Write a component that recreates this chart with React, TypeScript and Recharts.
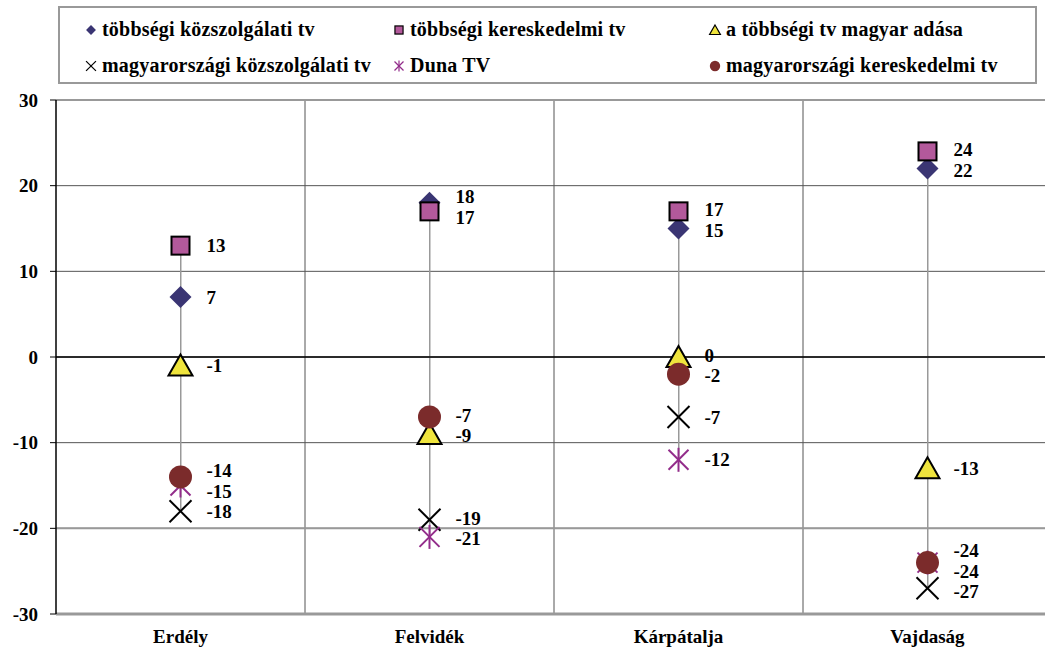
import { ComposedChart, Line, Bar, XAxis, YAxis, CartesianGrid, ReferenceLine, LabelList } from 'recharts';

const regions = ['Erdély', 'Felvidék', 'Kárpátalja', 'Vajdaság'];
const majorityPublic = [7, 18, 15, 22];
const majorityCommercial = [13, 17, 17, 24];
const majorityHungarian = [-1, -9, 0, -13];
const hungaryPublic = [-18, -19, -7, -27];
const dunaTv = [-15, -21, -12, -24];
const hungaryCommercial = [-14, -7, -2, -24];
const yTicks = [30, 20, 10, 0, -10, -20, -30];

const series = [
  { key: 'mp', name: 'többségi közszolgálati tv', values: majorityPublic, shape: 'diamond' },
  { key: 'mc', name: 'többségi kereskedelmi tv', values: majorityCommercial, shape: 'square' },
  { key: 'mh', name: 'a többségi tv magyar adása', values: majorityHungarian, shape: 'triangle' },
  { key: 'hp', name: 'magyarországi közszolgálati tv', values: hungaryPublic, shape: 'cross' },
  { key: 'duna', name: 'Duna TV', values: dunaTv, shape: 'star' },
  { key: 'hc', name: 'magyarországi kereskedelmi tv', values: hungaryCommercial, shape: 'circle' },
];

// push apart labels that would overlap (in value units)
const spread = (vals: number[], gap: number) => {
  const order = vals.map((_, i) => i).sort((a, b) => vals[b] - vals[a]);
  const p = vals.slice();
  for (let it = 0; it < 60; it++) {
    for (let k = 0; k < order.length - 1; k++) {
      const a = order[k], b = order[k + 1];
      const d = p[a] - p[b];
      if (d < gap) {
        const m = (gap - d) / 2;
        p[a] += m;
        p[b] -= m;
      }
    }
  }
  return p;
};

const data = regions.map((region, i) => {
  const vals = series.map((s) => s.values[i]);
  const lbl = spread(vals, 2.4);
  const row: any = { region, range: [Math.min(...vals), Math.max(...vals)] };
  series.forEach((s, j) => {
    row[s.key] = s.values[i];
    row[s.key + '_lbl'] = lbl[j];
  });
  return row;
});

const Marker = ({ shape, cx, cy, k = 1 }: { shape: string; cx: number; cy: number; k?: number }) => {
  const sw = k < 1 ? 1.2 : 2;
  if (shape === 'diamond')
    return <polygon points={`${cx},${cy - 11 * k} ${cx + 11 * k},${cy} ${cx},${cy + 11 * k} ${cx - 11 * k},${cy}`} fill="#3A3573" />;
  if (shape === 'square')
    return <rect x={cx - 9 * k} y={cy - 9 * k} width={18 * k} height={18 * k} fill="#B3599B" stroke="#000" strokeWidth={sw} />;
  if (shape === 'triangle')
    return <polygon points={`${cx},${cy - 11 * k} ${cx + 12 * k},${cy + 10 * k} ${cx - 12 * k},${cy + 10 * k}`} fill="#EFE43D" stroke="#000" strokeWidth={sw} />;
  if (shape === 'cross')
    return (
      <g stroke="#000" strokeWidth={sw}>
        <line x1={cx - 11 * k} y1={cy - 11 * k} x2={cx + 11 * k} y2={cy + 11 * k} />
        <line x1={cx - 11 * k} y1={cy + 11 * k} x2={cx + 11 * k} y2={cy - 11 * k} />
      </g>
    );
  if (shape === 'star')
    return (
      <g stroke="#922C8A" strokeWidth={sw}>
        <line x1={cx - 10 * k} y1={cy - 10 * k} x2={cx + 10 * k} y2={cy + 10 * k} />
        <line x1={cx - 10 * k} y1={cy + 10 * k} x2={cx + 10 * k} y2={cy - 10 * k} />
        <line x1={cx} y1={cy - 12 * k} x2={cx} y2={cy + 12 * k} />
      </g>
    );
  return <circle cx={cx} cy={cy} r={11.5 * k} fill="#7B2B2B" />;
};

const font = 'Liberation Serif';

const legendCols = [92, 400, 716];

const App = () => {
  return (
    <div style={{ position: 'absolute', left: 0, top: 0, width: 1045, height: 652, overflow: 'hidden', background: '#fff', fontFamily: font }}>
      <ComposedChart width={1052} height={652} data={data} margin={{ top: 100, right: 0, bottom: 0, left: 0 }}>
        <CartesianGrid
          horizontal
          vertical
          stroke="#555"
          verticalCoordinatesGenerator={({ offset }: any) => [1, 2, 3].map((n) => offset.left + (offset.width * n) / 4)}
        />
        <ReferenceLine y={30} stroke="#999" strokeWidth={2} />
        <ReferenceLine y={-20} stroke="#999" strokeWidth={2} />
        <ReferenceLine y={0} stroke="#000" strokeWidth={1.5} />
        <XAxis
          dataKey="region"
          height={38}
          axisLine={{ stroke: '#999', strokeWidth: 3 }}
          tickLine={false}
          tickMargin={10}
          tick={{ fill: '#000', fontSize: 19, fontWeight: 'bold', fontFamily: font }}
        />
        <YAxis
          type="number"
          domain={[-30, 30]}
          ticks={yTicks}
          width={56}
          interval={0}
          axisLine={{ stroke: '#000', strokeWidth: 1.5 }}
          tickLine={{ stroke: '#000' }}
          tickSize={6}
          tickMargin={12}
          tick={{ fill: '#000', fontSize: 19, fontWeight: 'bold', fontFamily: font }}
        />
        <Bar dataKey="range" barSize={1.5} fill="#999" isAnimationActive={false} />
        {series.map((s) => (
          <Line
            key={s.key}
            dataKey={s.key}
            stroke="none"
            isAnimationActive={false}
            activeDot={false}
            dot={(p: any) => <Marker key={`${s.key}-${p.index}`} shape={s.shape} cx={p.cx} cy={p.cy} />}
          />
        ))}
        {series.map((s) => (
          <Line key={s.key + '_lbl'} dataKey={s.key + '_lbl'} stroke="none" dot={false} activeDot={false} isAnimationActive={false}>
            <LabelList
              dataKey={s.key + '_lbl'}
              content={(p: any) => (
                <text x={p.x + 26} y={p.y} dy="0.35em" fontSize={19} fontWeight="bold" fontFamily={font} fill="#000">
                  {s.values[p.index]}
                </text>
              )}
            />
          </Line>
        ))}
      </ComposedChart>
      <div style={{ position: 'absolute', left: 58, top: 6, width: 975, height: 74, border: '2px solid #999', background: '#fff' }}>
        {series.map((s, i) => {
          const col = i % 3;
          const row = Math.floor(i / 3);
          return (
            <div
              key={s.key}
              style={{ position: 'absolute', left: legendCols[col] - 60 - 8, top: row * 36 + 10, display: 'flex', alignItems: 'center', fontSize: 20, letterSpacing: 0.2, fontWeight: 'bold', whiteSpace: 'nowrap' }}
            >
              <svg width={14} height={14} style={{ marginRight: 4 }}>
                <Marker shape={s.shape} cx={7} cy={7} k={0.45} />
              </svg>
              <span>{s.name}</span>
            </div>
          );
        })}
      </div>
    </div>
  );
};

export default App;
